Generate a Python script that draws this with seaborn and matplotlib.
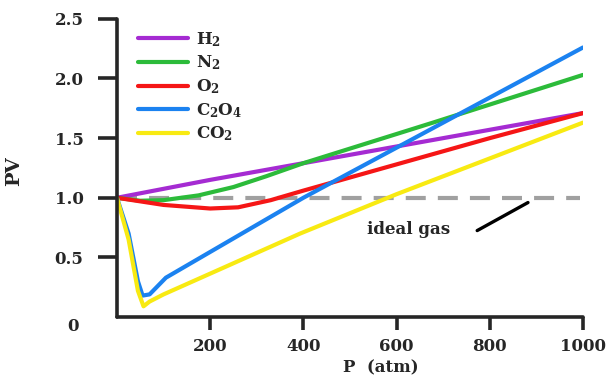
import pandas as pd
import matplotlib
matplotlib.use('Agg')
import matplotlib.pyplot as plt
import seaborn as sns

sns.set_style('ticks')
plt.rcParams['font.family'] = ['DejaVu Serif']
plt.rcParams['font.weight'] = 'bold'
plt.rcParams['axes.labelweight'] = 'bold'
plt.rcParams['mathtext.fontset'] = 'dejavuserif'
plt.rcParams['mathtext.default'] = 'bf'

# data
h2_p = [0, 200, 400, 600, 800, 1000]
h2_pv = [1.0, 1.15, 1.29, 1.43, 1.57, 1.71]

n2_p = [0, 50, 100, 175, 250, 320, 400, 678, 1000]
n2_pv = [1.0, 0.975, 0.98, 1.02, 1.09, 1.18, 1.29, 1.63, 2.03]

o2_p = [0, 100, 200, 260, 330, 400, 600, 800, 1000]
o2_pv = [1.0, 0.94, 0.91, 0.92, 0.98, 1.06, 1.28, 1.5, 1.71]

c2o4_p = [0, 25, 45, 55, 70, 105, 400, 1000]
c2o4_pv = [1.0, 0.7, 0.3, 0.18, 0.19, 0.33, 1.0, 2.26]

co2_p = [0, 25, 45, 57, 70, 100, 393, 600, 1000]
co2_pv = [1.0, 0.65, 0.22, 0.09, 0.13, 0.19, 0.70, 1.03, 1.63]

ideal_p = [0, 993]
ideal_pv = [1.0, 1.0]

gases = ['H$_2$', 'N$_2$', 'O$_2$', 'C$_2$O$_4$', 'CO$_2$']
colors = ['#a52bd2', '#2cbb3a', '#f51616', '#1b82f0', '#f8ea12']

series = [(h2_p, h2_pv), (n2_p, n2_pv), (o2_p, o2_pv), (c2o4_p, c2o4_pv), (co2_p, co2_pv)]
rows = []
for g, (p, pv) in zip(gases, series):
    for a, b in zip(p, pv):
        rows.append({'gas': g, 'P': a, 'PV': b})
df = pd.DataFrame(rows)

fig = plt.figure(figsize=(6.06, 3.77), dpi=100)
ax = fig.add_axes([0.193, 0.159, 0.769, 0.791])

# ideal gas reference
ax.plot(ideal_p, ideal_pv, color='#a0a0a0', lw=3, dashes=(4.8, 2.9), zorder=1)

sns.lineplot(data=df, x='P', y='PV', hue='gas', palette=colors, hue_order=gases,
             sort=False, estimator=None, lw=3, ax=ax, zorder=2)
for ln in ax.get_lines():
    ln.set_solid_capstyle('round')

ax.set_xlim(0, 1000)
ax.set_ylim(0, 2.5)
ax.set_xticks([200, 400, 600, 800, 1000])
ax.set_yticks([0.5, 1.0, 1.5, 2.0, 2.5])
ax.set_yticklabels(['0.5', '1.0', '1.5', '2.0', '2.5'])
ax.tick_params(axis='y', length=14, width=2.6, pad=10, labelsize=12)
ax.tick_params(axis='x', length=9, width=2.6, pad=6, labelsize=12)
for s in ['left', 'bottom']:
    ax.spines[s].set_linewidth(2.6)
    ax.spines[s].set_capstyle('round')
sns.despine(ax=ax)
ax.text(-0.083, -0.03, '0', transform=ax.transAxes, ha='right', va='center', fontsize=12)

ax.set_xlabel('P  (atm)', fontsize=12)
ax.set_ylabel('PV', fontsize=14)
ax.xaxis.label.set_va('center')
ax.yaxis.label.set_va('center')
ax.xaxis.set_label_coords(0.566, -0.17)
ax.yaxis.set_label_coords(-0.221, 0.49)

ax.text(625, 0.73, 'ideal gas', fontsize=12, ha='center', va='center')
ax.annotate('', xy=(882, 0.96), xytext=(773, 0.725),
            arrowprops=dict(arrowstyle='-', lw=2.4, color='black', shrinkA=0, shrinkB=0))

ax.legend(loc='upper left', bbox_to_anchor=(0.03, 0.985), frameon=False, fontsize=12,
          handlelength=3.0, labelspacing=0.3, handletextpad=0.5, borderaxespad=0)

fig.savefig('out.png', dpi=100)
